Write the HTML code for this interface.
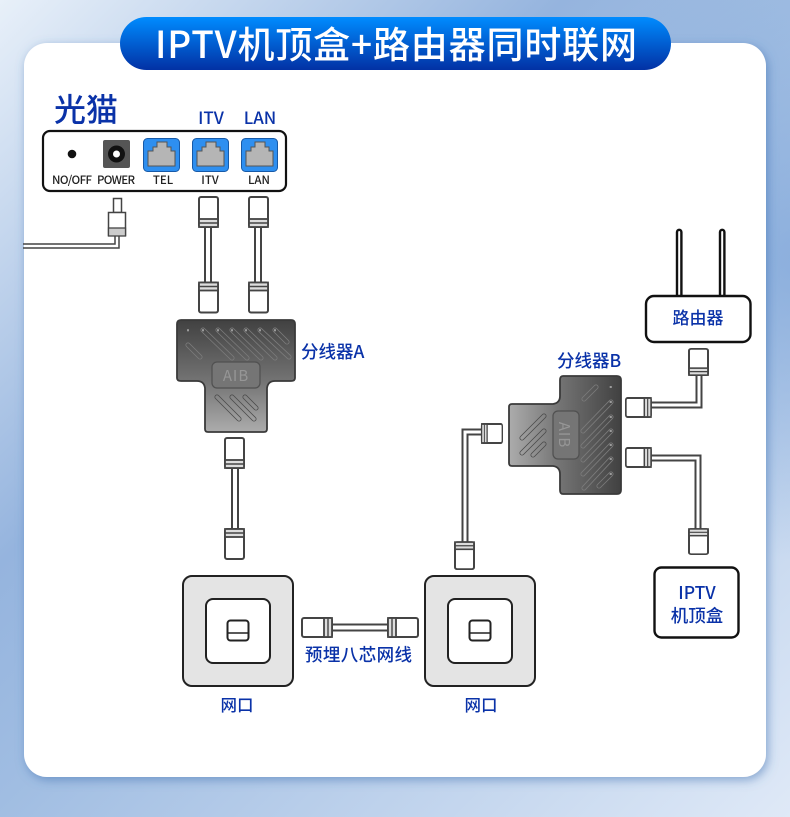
<!DOCTYPE html>
<html lang="zh">
<head>
<meta charset="utf-8">
<title>IPTV机顶盒+路由器同时联网</title>
<style>
html,body{margin:0;padding:0}
body{width:790px;height:817px;overflow:hidden;position:relative;background:radial-gradient(circle at 800px 260px,rgba(130,168,218,.8),rgba(130,168,218,0) 300px),linear-gradient(135deg,#e8f0f9 0%,#95b4de 35%,#a0bde2 50%,#dfe9f7 100%)}
svg{position:absolute;left:0;top:0;font-family:"Noto Sans CJK SC","Liberation Sans",sans-serif}
.b{fill:#0a32a8;font-weight:500}
.s{fill:#222;font-size:11.5px;font-weight:500;text-anchor:middle}
.m{text-anchor:middle}
</style>
</head>
<body>
<svg width="790" height="817" viewBox="0 0 790 817" xmlns="http://www.w3.org/2000/svg">
<defs>
<linearGradient id="pill" x1="0" y1="0" x2="0" y2="1"><stop offset="0" stop-color="#008cff"/><stop offset="1" stop-color="#0231a4"/></linearGradient>
<linearGradient id="sp" gradientUnits="userSpaceOnUse" x1="0" y1="0" x2="0" y2="112"><stop offset="0" stop-color="#414141"/><stop offset=".55" stop-color="#747474"/><stop offset="1" stop-color="#acacac"/></linearGradient>
<filter id="sh" x="-5%" y="-5%" width="110%" height="110%"><feDropShadow dx="2" dy="3" stdDeviation="5" flood-color="#3f6fb0" flood-opacity=".55"/></filter>
<g id="plug">
<rect x="1" y="1" width="19" height="30" rx="2" fill="#fff" stroke="#444" stroke-width="2"/>
<rect x="1" y="23" width="19" height="8" fill="#ddd" stroke="#444" stroke-width="1.8"/>
<line x1="1" y1="27" x2="20" y2="27" stroke="#444" stroke-width="1.4"/>
</g>
<g id="port">
<rect x="0.5" y="0.5" width="36" height="33" rx="4" fill="#2e8ff0" stroke="#175aa8"/>
<path d="M5 28V13H10V9H14V4H24V9H28V13H32V28Z" fill="#b5b5b5" stroke="#555" stroke-width="1"/>
</g>
<g id="wall">
<rect x="1" y="1" width="110" height="110" rx="9" fill="#e4e4e4" stroke="#222" stroke-width="2"/>
<rect x="24" y="24" width="64" height="64" rx="7" fill="#fff" stroke="#222" stroke-width="2"/>
<rect x="45.500" y="45.500" width="21" height="20" rx="3" fill="#fff" stroke="#222" stroke-width="2"/>
<line x1="45.500" y1="58" x2="66.500" y2="58" stroke="#222" stroke-width="1.6"/>
</g>
<g id="splitter">
<path d="M4 0H114Q118 0 118 4V58Q118 61 114 61H98Q91 61 90 68V109Q90 112 87 112H31Q28 112 28 109V68Q27 61 20 61H4Q0 61 0 58V4Q0 0 4 0Z" fill="url(#sp)" stroke="#3a3a3a" stroke-width="1.800"/>
<g fill="none" stroke-linecap="round">
<path d="M26 10L55 38M41 10L70 38M55 10L84 38M69 10L98 38M83 10L112 37M98 10L110 22M11 25L23 37" stroke="#7c7c7c" stroke-width="5"/>
<path d="M40 77L62 99M55 77L77 99M68 77L79 88" stroke="#4a4a4a" stroke-width="5"/>
<path d="M26 10L55 38M41 10L70 38M55 10L84 38M69 10L98 38M83 10L112 37M98 10L110 22M11 25L23 37M40 77L62 99M55 77L77 99M68 77L79 88" stroke="url(#sp)" stroke-width="3.400"/>
<path d="M11 10V10.500M26 10V10.500M41 10V10.500M55 10V10.500M69 10V10.500M83 10V10.500M98 10V10.500" stroke="#a0a0a0" stroke-width="2"/>
</g>
<rect x="35" y="42" width="48" height="26" rx="5" fill="#757575" stroke="#505050" stroke-width="1.200"/>
</g>
</defs>

<!-- card -->
<rect x="24" y="43" width="742" height="734" rx="23" fill="#fff" filter="url(#sh)"/>

<!-- title -->
<rect x="120" y="17" width="551" height="53" rx="26.500" fill="url(#pill)"/>
<text x="396" y="58" class="m" fill="#fff" font-size="37" font-weight="500" textLength="482" lengthAdjust="spacing">IPTV机顶盒+路由器同时联网</text>

<!-- modem -->
<text x="54" y="121" class="b" font-size="32">光猫</text>
<text x="211" y="124" class="b m" font-size="17">ITV</text>
<text x="260" y="124" class="b m" font-size="17">LAN</text>
<rect x="43" y="131" width="243" height="60" rx="7" fill="#fff" stroke="#111" stroke-width="2.200"/>
<circle cx="72" cy="154" r="4.300" fill="#111"/>
<rect x="103" y="140" width="27" height="28" rx="2" fill="#555"/>
<circle cx="116.500" cy="154" r="8.500" fill="#111"/>
<circle cx="116.500" cy="154" r="3.500" fill="#fff"/>
<use href="#port" x="143" y="138"/>
<use href="#port" x="192" y="138"/>
<use href="#port" x="241" y="138"/>
<text x="72" y="184" class="s" textLength="40">NO/OFF</text>
<text x="116" y="184" class="s" textLength="38">POWER</text>
<text x="163" y="184" class="s">TEL</text>
<text x="210" y="184" class="s">ITV</text>
<text x="259" y="184" class="s">LAN</text>

<!-- power plug -->
<path d="M23 244H115V236M23 248H119V236" fill="none" stroke="#444" stroke-width="1.500"/>
<rect x="113.500" y="198.500" width="8" height="14" fill="#fff" stroke="#444" stroke-width="1.500"/>
<rect x="108.500" y="212.500" width="17" height="23" fill="#fff" stroke="#444" stroke-width="1.500"/>
<rect x="108.500" y="228" width="17" height="8" fill="#ccc" stroke="#444" stroke-width="1.300"/>

<!-- A wires -->
<g fill="#fff" stroke="#444" stroke-width="2">
<rect x="205" y="226" width="6" height="58"/>
<rect x="255" y="226" width="6" height="58"/>
<rect x="232" y="466" width="6" height="64"/>
<rect x="331" y="624.500" width="58" height="6"/>
</g>
<use href="#plug" x="198" y="196"/>
<use href="#plug" transform="translate(198 313.500) scale(1 -1)"/>
<use href="#plug" x="248" y="196"/>
<use href="#plug" transform="translate(248 313.500) scale(1 -1)"/>
<use href="#plug" x="224" y="437"/>
<use href="#plug" transform="translate(224 560) scale(1 -1)"/>

<!-- splitter A -->
<use href="#splitter" x="177" y="320"/>
<text x="236" y="381" class="m" font-size="15" fill="#969696" letter-spacing="1">AIB</text>
<text x="301" y="358" class="b" font-size="17.500">分线器A</text>

<!-- splitter B -->
<use href="#splitter" transform="translate(621 376) rotate(90)"/>
<text transform="translate(559 435) rotate(90)" class="m" font-size="15" fill="#969696" letter-spacing="1">AIB</text>
<text x="557" y="367" class="b" font-size="17.500">分线器B</text>

<!-- B wires -->
<g fill="none" stroke-linejoin="miter">
<path d="M483 432H465V543" stroke="#444" stroke-width="7"/>
<path d="M483 432H465V543" stroke="#fff" stroke-width="3"/>
<path d="M650 405H699V374" stroke="#444" stroke-width="7"/>
<path d="M650 405H699V374" stroke="#fff" stroke-width="3"/>
<path d="M650 458H698V530" stroke="#444" stroke-width="7"/>
<path d="M650 458H698V530" stroke="#fff" stroke-width="3"/>
</g>
<use href="#plug" transform="translate(454 570) scale(1 -.9)"/>
<use href="#plug" transform="translate(503 423) rotate(90) scale(1 .69)"/>
<use href="#plug" transform="translate(688 348) scale(1 .875)"/>
<use href="#plug" transform="translate(625 418) rotate(-90) scale(1 .84)"/>
<use href="#plug" transform="translate(625 468) rotate(-90) scale(1 .84)"/>
<use href="#plug" transform="translate(688 555) scale(1 -.84)"/>

<!-- router -->
<g fill="#fff" stroke="#111" stroke-width="2.400">
<path d="M677 297V232a2.200 2.200 0 0 1 4.400 0V297"/>
<path d="M720 297V232a2.200 2.200 0 0 1 4.400 0V297"/>
<rect x="646" y="296" width="104.500" height="46" rx="8"/>
</g>
<text x="698" y="324" class="b m" font-size="17">路由器</text>

<!-- IPTV box -->
<rect x="654.500" y="567.500" width="84" height="70" rx="7" fill="#fff" stroke="#111" stroke-width="2.400"/>
<text x="697" y="599" class="b m" font-size="17.500">IPTV</text>
<text x="697" y="622" class="b m" font-size="17.500">机顶盒</text>

<!-- wall sockets -->
<use href="#wall" x="182" y="575"/>
<use href="#wall" x="424" y="575"/>
<text x="237" y="711" class="b m" font-size="16.500">网口</text>
<text x="481" y="711" class="b m" font-size="16.500">网口</text>
<use href="#plug" transform="translate(301 638) rotate(-90)"/>
<use href="#plug" transform="translate(419 617) rotate(90)"/>
<text x="358.500" y="661" class="b m" font-size="17.500" textLength="107">预埋八芯网线</text>
</svg>
</body>
</html>
